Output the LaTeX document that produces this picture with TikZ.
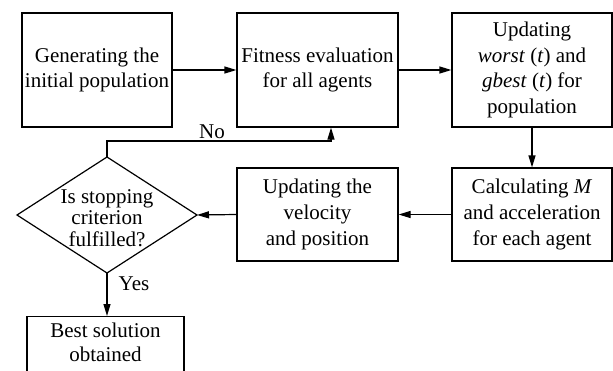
\documentclass[tikz,border=0pt]{standalone}
\usepackage{fontspec}
\setmainfont{Liberation Serif}
\usetikzlibrary{arrows.meta,shapes.geometric}
\begin{document}
\begin{tikzpicture}[x=1pt,y=-1pt,
  box/.style={draw,line width=1.2pt,align=center,inner sep=0pt,font=\fontsize{21}{24.5}\selectfont},
  arr/.style={line width=1.2pt,-{Stealth[length=12pt,width=7pt,inset=0pt]}},
  lbl/.style={font=\fontsize{21}{24}\selectfont,inner sep=0pt}]
\useasboundingbox (0,0) rectangle (613,370);
\clip (0,0) rectangle (613,370);
\node[box,minimum width=150pt,minimum height=114pt] (gen) at (97,70) {Generating the\\initial population};
\node[box,minimum width=161pt,minimum height=114pt] (fit) at (317.5,70) {Fitness evaluation\\for all agents};
\node[box,minimum width=160pt,minimum height=114pt,font=\fontsize{21}{25.5}\selectfont] (upd) at (532,70) {Updating\\\textit{worst} (\textit{t}) and\\\textit{gbest} (\textit{t}) for\\population};
\node[box,minimum width=160pt,minimum height=93pt,font=\fontsize{21}{26}\selectfont] (calc) at (532,214.5) {Calculating \textit{M}\\and acceleration\\for each agent};
\node[box,minimum width=161pt,minimum height=93pt,font=\fontsize{21}{26}\selectfont] (vel) at (317.5,214.5) {Updating the\\velocity\\and position};
\coordinate (dc) at (107,215);
\coordinate (dt) at (107,157);
\coordinate (db) at (107,273);
\coordinate (dl) at (17,215);
\coordinate (dr) at (197,215);
\draw[line width=1.2pt] (dt) -- (dr) -- (db) -- (dl) -- cycle;
\node[box,draw=none,font=\fontsize{21}{21.5}\selectfont] (dec) at (107,218) {Is stopping\\criterion\\fulfilled?};
\node[box,minimum width=157pt,minimum height=90pt,anchor=north] (best) at (105.5,316) {Best solution\\obtained\\[14pt]};
\coordinate (nc) at (107,141);
\coordinate (nr) at (331,141);
\draw[arr] (gen.east) -- (fit.west);
\draw[arr] (fit.east) -- (upd.west);
\draw[arr] (upd.south) -- (calc.north);
\draw[arr] (calc.west) -- (vel.west -| vel.east);
\draw[arr] (vel.west) -- (dr);
\draw[arr] (dt) -- (nc) -- (nr) -- (nr |- fit.south);
\draw[arr] (db) -- (best.north -| db);
\node[lbl] (no) at (212,132) {No};
\node[lbl] (yes) at (134,284) {Yes};
\end{tikzpicture}
\end{document}
